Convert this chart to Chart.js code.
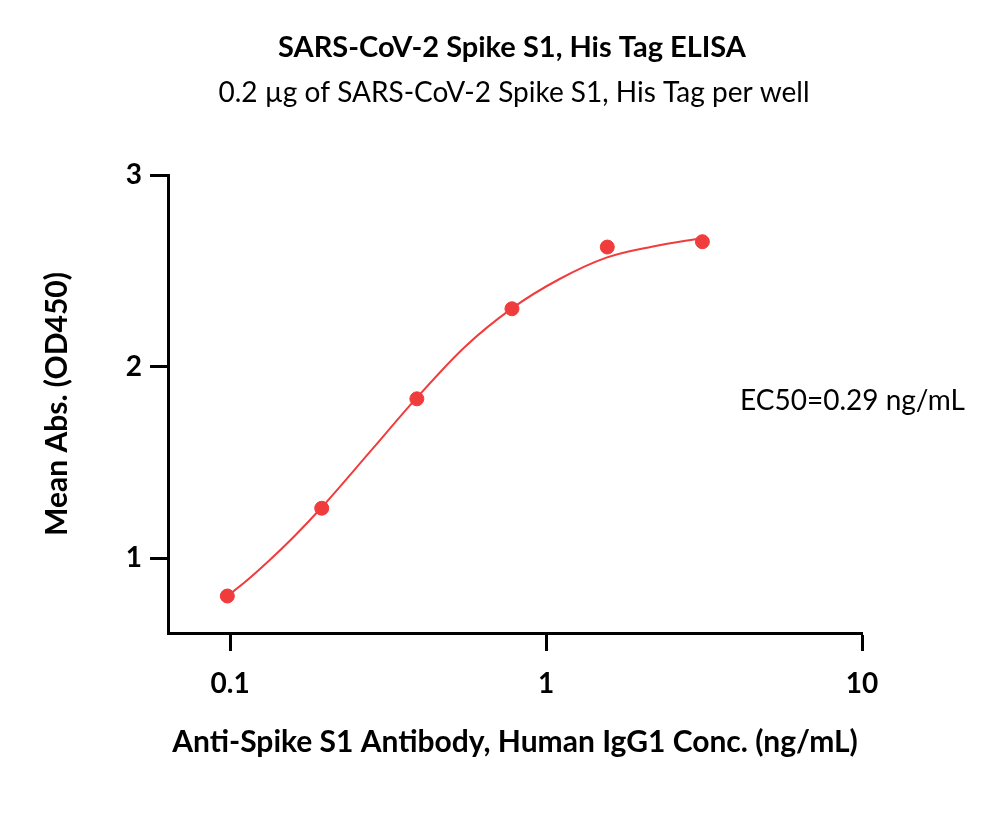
<!DOCTYPE html>
<html>
<head>
<meta charset="utf-8">
<script src="https://cdn.jsdelivr.net/npm/chart.js@4.4.1/dist/chart.umd.min.js"></script>
<style>
  html, body { margin: 0; padding: 0; background: #fff; }
  #wrap { width: 1000px; height: 831px; }
</style>
</head>
<body>
<div id="wrap"><canvas id="chart-elisa"></canvas></div>
<script>
// measured points (ng/mL vs OD450)
const conc = [0.098, 0.195, 0.39, 0.78, 1.5625, 3.125];
const absorb = [0.803, 1.261, 1.832, 2.302, 2.624, 2.652];
// fitted curve
const fitConc = [0.098, 0.111, 0.133, 0.160, 0.196, 0.277, 0.39, 0.55, 0.78, 1.10, 1.56, 2.16, 3.125];
const fitAbs = [0.803, 0.873, 0.988, 1.116, 1.270, 1.555, 1.838, 2.099, 2.304, 2.456, 2.570, 2.626, 2.671];
const xTicks = [0.1, 1, 10];
const yTicks = [1, 2, 3];

const red = '#F03C3C';
const fam = 'Lato, "Open Sans", sans-serif';

// title, subtitle and EC50 note
const textLayer = {
    id: 'textLayer',
    afterDraw(chart) {
        const ctx = chart.ctx;
        ctx.save();
        ctx.fillStyle = '#000';
        ctx.textBaseline = 'middle';
        ctx.textAlign = 'center';
        ctx.font = 'bold 29px ' + fam;
        ctx.fillText('SARS-CoV-2 Spike S1, His Tag ELISA', 512, 48);
        ctx.font = '28px ' + fam;
        ctx.fillText('0.2 µg of SARS-CoV-2 Spike S1, His Tag per well', 514, 93);
        ctx.textAlign = 'left';
        ctx.font = '28px ' + fam;
        ctx.fillText('EC50=0.29 ng/mL', 740, 401);
        ctx.restore();
    }
};

new Chart(document.getElementById('chart-elisa'), {
    type: 'scatter',
    data: {
        datasets: [
            {
                label: 'fit',
                type: 'line',
                data: fitConc.map((x, i) => ({x: x, y: fitAbs[i]})),
                borderColor: red,
                borderWidth: 2,
                pointRadius: 0,
                cubicInterpolationMode: 'monotone',
                fill: false
            },
            {
                label: 'data',
                data: conc.map((x, i) => ({x: x, y: absorb[i]})),
                backgroundColor: red,
                borderColor: red,
                pointRadius: 7,
                pointHoverRadius: 7
            }
        ]
    },
    options: {
        responsive: true,
        maintainAspectRatio: false,
        animation: false,
        layout: { padding: { left: 0, right: 138, top: 175, bottom: 0 } },
        plugins: {
            legend: { display: false },
            tooltip: { enabled: false }
        },
        scales: {
            x: {
                type: 'logarithmic',
                min: 0.0636,
                max: 10,
                afterBuildTicks: s => { s.ticks = xTicks.map(v => ({value: v})); },
                afterFit: s => { s.height = 198; },
                border: { display: true, color: '#000', width: 3 },
                grid: { drawOnChartArea: false, drawTicks: true, tickLength: 18, tickWidth: 3, tickColor: '#000' },
                ticks: {
                    color: '#000',
                    padding: 16,
                    font: { family: fam, size: 28, weight: 'bold' },
                    callback: v => String(v),
                    maxRotation: 0
                },
                title: {
                    display: true,
                    text: 'Anti-Spike S1 Antibody, Human IgG1 Conc. (ng/mL)',
                    color: '#000',
                    font: { family: fam, size: 30, weight: 'bold', lineHeight: 1.2 },
                    padding: { bottom: 71 }
                }
            },
            y: {
                min: 0.61,
                max: 3,
                afterBuildTicks: s => { s.ticks = yTicks.map(v => ({value: v})); },
                afterFit: s => { s.width = 168; },
                border: { display: true, color: '#000', width: 3 },
                grid: { drawOnChartArea: false, drawTicks: true, tickLength: 18, tickWidth: 3, tickColor: '#000' },
                ticks: {
                    color: '#000',
                    padding: 8,
                    font: { family: fam, size: 28, weight: 'bold' }
                },
                title: {
                    display: true,
                    text: 'Mean Abs. (OD450)',
                    color: '#000',
                    font: { family: fam, size: 30, weight: 'bold', lineHeight: 1.2 },
                    padding: { top: 39 }
                }
            }
        }
    },
    plugins: [textLayer]
});
</script>
</body>
</html>
